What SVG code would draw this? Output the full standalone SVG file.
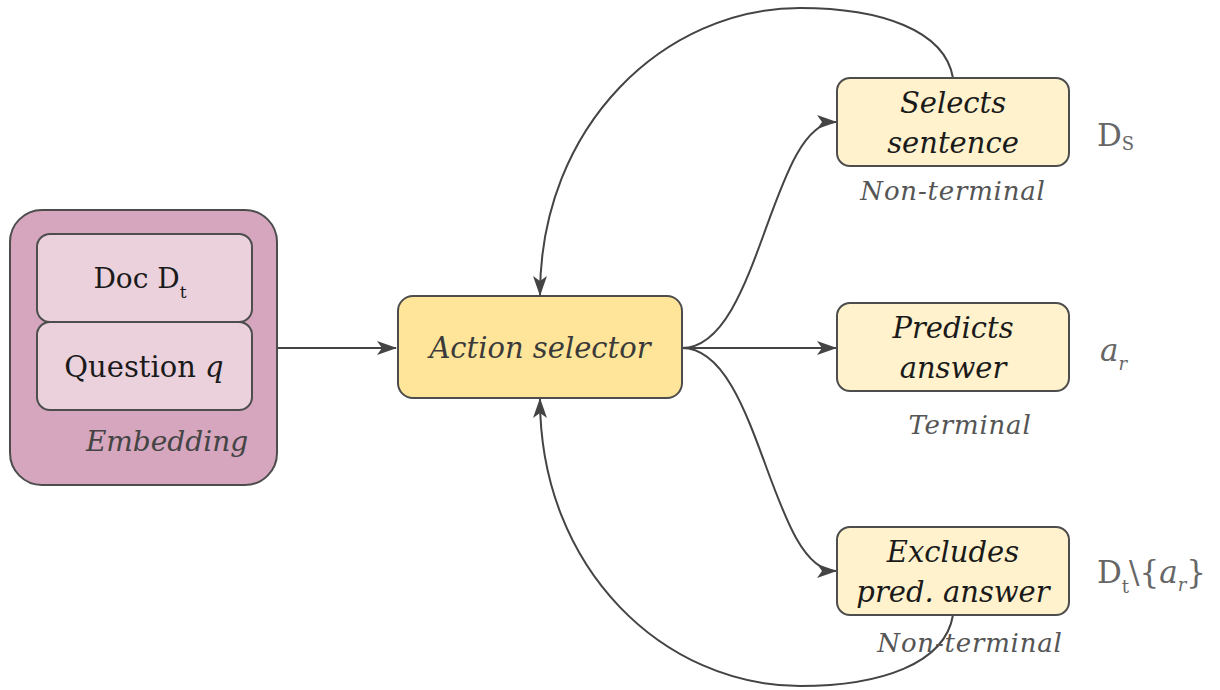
<svg xmlns="http://www.w3.org/2000/svg" width="1220" height="690" viewBox="0 0 1220 690">
  <style>
    .box { stroke: #4d4d4d; stroke-width: 2; }
    .t { font-family: "DejaVu Serif", "Liberation Serif", serif; fill: #1a1a1a; text-anchor: middle; }
    .it { font-style: italic; }
    .lbl { font-family: "DejaVu Serif", "Liberation Serif", serif; font-style: italic; fill: #555; text-anchor: middle; font-size: 26px; letter-spacing: 0.8px; }
    .math { font-family: "DejaVu Serif", "Liberation Serif", serif; fill: #666; font-size: 31px; }
    .edge { fill: none; stroke: #444; stroke-width: 2; }
  </style>
  <defs>
    <marker id="arrow" viewBox="0 0 20 14" refX="19" refY="7" markerWidth="20" markerHeight="14" markerUnits="userSpaceOnUse" orient="auto">
      <path d="M0,0 L20,7 L0,14 L5,7 Z" fill="#444"/>
    </marker>
  </defs>
  <rect width="1220" height="690" fill="#ffffff"/>

  <!-- connectors -->
  <g id="connectors">
    <path class="edge" d="M277,348 L396,348" marker-end="url(#arrow)"/>
    <path class="edge" d="M682,348 C 760,348 770,122 836,122" marker-end="url(#arrow)"/>
    <path class="edge" d="M682,348 L836,348" marker-end="url(#arrow)"/>
    <path class="edge" d="M682,348 C 760,348 770,571 836,571" marker-end="url(#arrow)"/>
    <path class="edge" d="M953,78 C 945,30 880,8 800,8 C 665,8 540,125 540,295" marker-end="url(#arrow)"/>
    <path class="edge" d="M953,615 C 945,664 880,686 800,686 C 665,686 540,570 540,399" marker-end="url(#arrow)"/>
  </g>

  <!-- embedding block -->
  <g id="embedding">
    <rect class="box" x="10" y="210" width="267" height="275" rx="32" fill="#d5a6bd"/>
    <text class="t it" x="167" y="451" font-size="28" style="fill:#444">Embedding</text>
  </g>
  <g id="doc">
    <rect class="box" x="37" y="234" width="215" height="88" rx="13" fill="#ead1dc"/>
    <text class="t" x="140" y="288" font-size="28">Doc D<tspan font-size="17" dy="10">t</tspan></text>
  </g>
  <g id="question">
    <rect class="box" x="37" y="322" width="215" height="88" rx="13" fill="#ead1dc"/>
    <text class="t" x="144" y="377" font-size="29">Question <tspan font-style="italic">q</tspan></text>
  </g>

  <!-- central selector -->
  <g id="action-selector">
    <rect class="box" x="398" y="296" width="284" height="102" rx="15" fill="#ffe599"/>
    <text class="t it" x="540" y="358" font-size="29" style="fill:#3a3a3a">Action selector</text>
  </g>

  <!-- actions -->
  <g id="selects-sentence">
    <rect class="box" x="837" y="78" width="232" height="88" rx="13" fill="#fff2cc"/>
    <text class="t it" x="953" y="113" font-size="29">Selects</text>
    <text class="t it" x="953" y="153" font-size="29">sentence</text>
    <text class="lbl" x="953" y="200">Non-terminal</text>
    <text class="math" x="1097" y="146">D<tspan font-size="18" dy="4">S</tspan></text>
  </g>
  <g id="predicts-answer">
    <rect class="box" x="837" y="303" width="232" height="88" rx="13" fill="#fff2cc"/>
    <text class="t it" x="953" y="338" font-size="29">Predicts</text>
    <text class="t it" x="953" y="378" font-size="29">answer</text>
    <text class="lbl" x="970" y="434">Terminal</text>
    <text class="math" x="1100" y="361" font-style="italic">a<tspan font-size="18" dy="9">r</tspan></text>
  </g>
  <g id="excludes-answer">
    <rect class="box" x="837" y="527" width="232" height="88" rx="13" fill="#fff2cc"/>
    <text class="t it" x="953" y="562" font-size="29">Excludes</text>
    <text class="t it" x="953" y="602" font-size="29">pred. answer</text>
    <text class="lbl" x="970" y="652">Non-terminal</text>
    <text class="math" x="1097" y="583">D<tspan font-size="18" dy="10">t</tspan><tspan dy="-10">\{</tspan><tspan font-style="italic">a</tspan><tspan font-size="18" dy="8" font-style="italic">r</tspan><tspan dy="-8">}</tspan></text>
  </g>
</svg>
